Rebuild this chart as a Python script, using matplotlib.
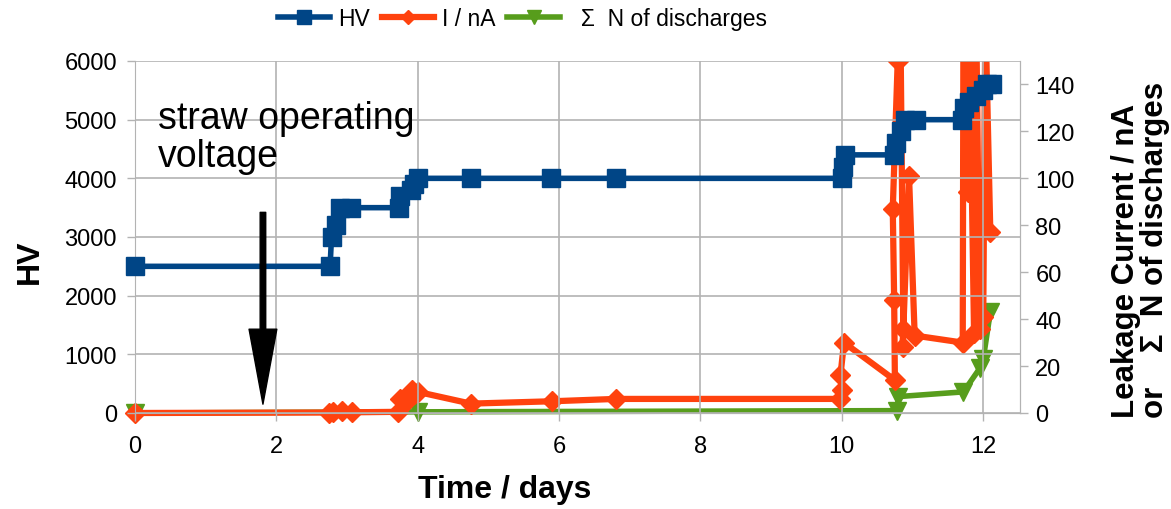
import numpy as np
import matplotlib.pyplot as plt
from matplotlib.patches import Rectangle

plt.rcParams['font.family'] = ['Liberation Sans', 'DejaVu Sans']

# HV setpoint over time
hv_days = [0, 2.76, 2.78, 2.84, 2.90, 3.05, 3.73, 3.75, 3.90, 3.94, 4.00, 4.75, 5.88, 6.80,
           10.00, 10.02, 10.05, 10.74, 10.77, 10.83, 10.90, 11.05,
           11.70, 11.73, 11.80, 11.90, 12.00, 12.05, 12.12]
hv = [2500, 2500, 3000, 3200, 3500, 3500, 3500, 3700, 3800, 3900, 4000, 4000, 4000, 4000,
      4000, 4200, 4400, 4400, 4600, 4800, 5000, 5000,
      5000, 5200, 5300, 5400, 5500, 5600, 5600]

# leakage current / nA
i_days = [0, 2.75, 2.80, 2.93, 3.07, 3.72, 3.75, 3.85, 3.92, 3.95, 4.00, 4.75, 5.90, 6.80,
          9.98, 10.00, 9.98, 10.03, 10.75, 10.74, 10.72, 10.79, 10.83, 10.87, 10.86, 10.95,
          11.03, 11.71, 11.72, 11.78, 11.80, 11.87, 11.90, 11.95, 12.00, 12.03, 12.10]
i_na = [0, 0.2, 0.5, 1, 0.3, 0.5, 6, 5, 10, 8, 9, 4, 5, 6,
        6, 10, 16, 30, 14, 48, 87, 150, 160, 36, 28, 101,
        33, 30, 170, 94, 170, 34, 170, 36, 41, 170, 77]

# cumulative number of discharges
n_days = [0, 4.0, 10.78, 10.80, 11.72, 11.95, 12.00, 12.10]
n_dis = [0, 0.5, 1, 7, 9, 19, 23, 43]

fig = plt.figure(figsize=(11.71, 5.10), dpi=100)
ax = fig.add_axes([135 / 1171, 96 / 510, 885 / 1171, 352 / 510])
ax2 = ax.twinx()

blue, orange, green = '#004586', '#ff420e', '#579d1c'
grey = '#b3b3b3'

ax.set_xlim(0, 12.52)
ax.set_ylim(0, 6000)
ax2.set_ylim(0, 150)
ax.set_xticks(np.arange(0, 13, 2))
ax.set_yticks(np.arange(0, 6001, 1000))
ax2.set_yticks(np.arange(0, 141, 20))
ax.grid(True, color=grey, lw=1.2)
ax.set_axisbelow(True)

for a in (ax, ax2):
    a.spines['top'].set_visible(False)
    for s in ('left', 'right', 'bottom'):
        a.spines[s].set_color(grey)
    a.tick_params(colors=grey, labelcolor='black', labelsize=17, length=6, width=1)
ax2.spines['left'].set_visible(False)
ax.tick_params(axis='x', pad=10)
ax.tick_params(axis='y', pad=7)
ax2.tick_params(axis='y', pad=5)

clip = Rectangle((-0.05, -0.1), 1.1, 1.1, transform=ax2.transAxes, visible=False)
fig.add_artist(clip)

l1, = ax.plot(hv_days, hv, color=blue, lw=4, marker='s', ms=13, label='HV', clip_on=False, zorder=3)
l2, = ax2.plot(i_days, i_na, color=orange, lw=4.5, marker='D', ms=10, label='I / nA', zorder=4)
l2.set_clip_path(clip)
l3, = ax2.plot(n_days, n_dis, color=green, lw=4, marker='v', ms=13, label='  \u03a3  N of discharges',
               zorder=3, clip_on=False)

ax.set_zorder(ax2.get_zorder() + 1)
ax.patch.set_visible(False)

ax.annotate('', xy=(1.81, 150), xytext=(1.81, 3420),
            arrowprops=dict(facecolor='black', edgecolor='black', width=4, headwidth=20, headlength=54))
ax.text(0.33, 4080, 'straw operating\nvoltage', fontsize=27, ha='left', va='bottom', linespacing=1.05)

ax.set_xlabel('Time / days', fontsize=23, fontweight='bold', labelpad=12, x=(505 - 135) / 885)
ax.set_ylabel('HV', fontsize=23, fontweight='bold', labelpad=14, y=(414 - 262) / 352)
ax2.set_ylabel('Leakage Current / nA\nor    \u03a3  N of discharges', fontsize=22.5, fontweight='bold',
               multialignment='left', labelpad=26, linespacing=0.95, y=(414 - 250) / 352)

fig.legend(handles=[l1, l2, l3], loc='upper center', bbox_to_anchor=(0.446, 1.025), ncol=3,
           frameon=False, fontsize=16.5, handlelength=2.3, handletextpad=0.35, columnspacing=0.5,
           markerscale=0.75)

fig.savefig('out.png', dpi=100)
